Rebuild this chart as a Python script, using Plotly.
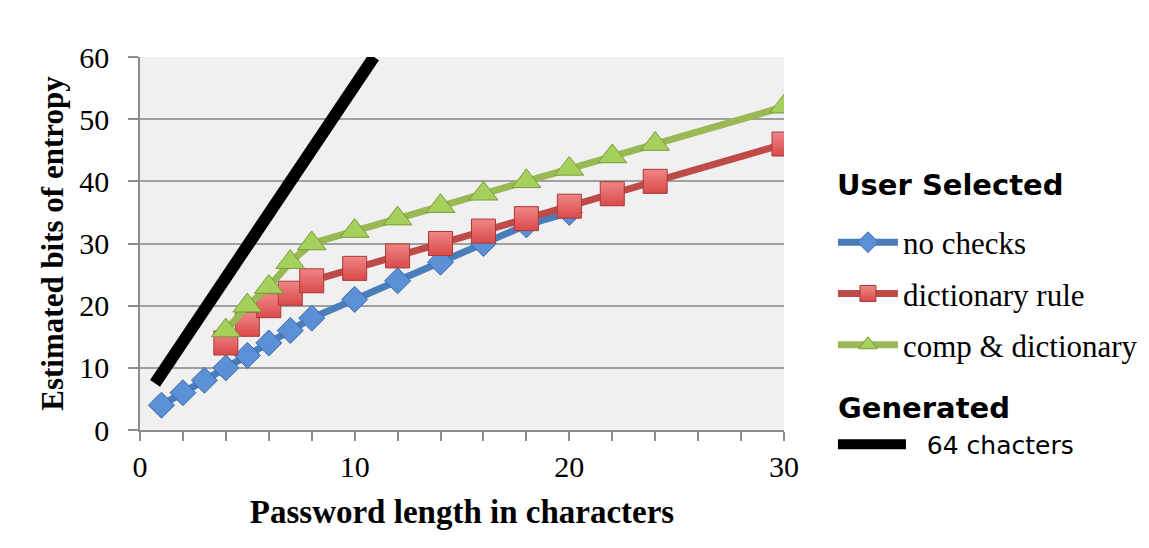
import plotly.graph_objects as go

# ---- data ----
len_no_checks = [1, 2, 3, 4, 5, 6, 7, 8, 10, 12, 14, 16, 18, 20]
bits_no_checks = [4, 6, 8, 10, 12, 14, 16, 18, 21, 24, 27, 30, 33, 35]

len_dict = [4, 5, 6, 7, 8, 10, 12, 14, 16, 18, 20, 22, 24, 30]
bits_dict = [14, 17, 20, 22, 24, 26, 28, 30, 32, 34, 36, 38, 40, 46]

len_comp = [4, 5, 6, 7, 8, 10, 12, 14, 16, 18, 20, 22, 24, 30]
bits_comp = [16, 20, 23, 27, 30, 32, 34, 36, 38, 40, 42, 44, 46, 52]

len_gen = [0.7, 10.9]
bits_gen = [7.5, 60]

x_tick_vals = [0, 10, 20, 30]
y_tick_vals = [0, 10, 20, 30, 40, 50, 60]

SERIF = "Liberation Serif"
SANS = "DejaVu Sans"

fig = go.Figure()

fig.add_trace(go.Scatter(
    x=len_gen, y=bits_gen, mode="lines", name="\u00a0\u00a064 chacters",
    line=dict(color="black", width=12), legend="legend2", legendgroup="g",
))

fig.add_trace(go.Scatter(
    x=len_no_checks, y=bits_no_checks, mode="lines+markers", name="no checks",
    line=dict(color="#4a7ebb", width=7),
    marker=dict(symbol="diamond", size=20, color="#5b8fd6",
                line=dict(color="#3b6aa6", width=1)),
    legend="legend", legendgroup="a",
))
fig.add_trace(go.Scatter(
    x=len_dict, y=bits_dict, mode="lines+markers", name="dictionary rule",
    line=dict(color="#be4b48", width=7),
    marker=dict(symbol="square", size=24, color="#f08686",
                gradient=dict(type="vertical", color="#d94a4a"),
                line=dict(color="#a83a38", width=1)),
    legend="legend", legendgroup="b",
))
fig.add_trace(go.Scatter(
    x=len_comp, y=bits_comp, mode="lines+markers", name="comp & dictionary",
    line=dict(color="#98b954", width=7),
    marker=dict(symbol="triangle-up", size=25, color="#a6d05c",
                line=dict(color="#7a9a3c", width=1)),
    legend="legend", legendgroup="c",
))

fig.update_layout(
    width=1149, height=548,
    margin=dict(l=132, r=373, t=49, b=126, autoexpand=False),
    paper_bgcolor="white",
    plot_bgcolor="#f0f0f0",
    font=dict(family=SERIF, size=28, color="black"),
    xaxis=dict(
        range=[0, 30], tickvals=x_tick_vals, ticks="outside", ticklen=9,
        tickcolor="#8c8c8c", tickwidth=1.5, automargin=False,
        minor=dict(dtick=2, ticks="outside", ticklen=9, tickcolor="#8c8c8c",
                   tickwidth=1.5, showgrid=False),
        showgrid=False, showline=True, linecolor="#8c8c8c", linewidth=1.5,
        zeroline=False,
        tickfont=dict(family=SERIF, size=30),
        title=dict(text="<b>Password length in characters</b>",
                   font=dict(family=SERIF, size=33), standoff=18),
    ),
    yaxis=dict(
        range=[0, 60], tickvals=y_tick_vals, ticks="outside", ticklen=10,
        tickcolor="#8c8c8c", tickwidth=1.5, automargin=False,
        showgrid=True, gridcolor="#a0a0a0", gridwidth=1.5,
        showline=True, linecolor="#8c8c8c", linewidth=1.5, zeroline=False,
        tickfont=dict(family=SERIF, size=30),
        ticklabelstandoff=13,
        title=dict(text="<b>Estimated bits of entropy</b>",
                   font=dict(family=SERIF, size=31), standoff=6),
    ),
    legend=dict(
        x=1.076, xanchor="left", y=0.575, yanchor="top",
        bgcolor="rgba(0,0,0,0)", borderwidth=0,
        font=dict(family=SERIF, size=31),
        tracegroupgap=8, itemwidth=60,
    ),
    legend2=dict(
        x=1.076, xanchor="left", y=0.023, yanchor="top",
        bgcolor="rgba(0,0,0,0)", borderwidth=0,
        font=dict(family=SANS, size=25),
        itemwidth=68,
    ),
    annotations=[
        dict(text="<b>User Selected</b>", xref="paper", yref="paper",
             x=1.079, y=0.657, xanchor="left", yanchor="middle",
             showarrow=False, font=dict(family=SANS, size=29)),
        dict(text="<b>Generated</b>", xref="paper", yref="paper",
             x=1.081, y=0.059, xanchor="left", yanchor="middle",
             showarrow=False, font=dict(family=SANS, size=29)),
    ],
)

fig.write_html("out.html")
